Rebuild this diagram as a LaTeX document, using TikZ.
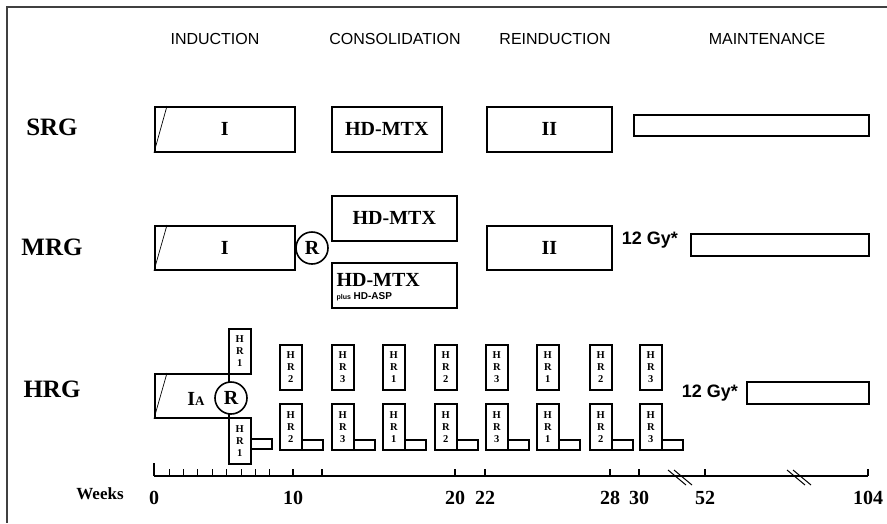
\documentclass[tikz,border=0pt]{standalone}
\usepackage{fontspec}
\setmainfont{Liberation Serif}
\newfontfamily\arialf{Liberation Sans}
\usetikzlibrary{calc}
\begin{document}
\begin{tikzpicture}[x=1pt,y=-1pt,
  bx/.style={draw, line width=1.6pt, inner sep=0pt, anchor=north west},
  circ/.style={draw, circle, line width=1.6pt, fill=white, inner sep=0pt, minimum size=32pt, font=\fontsize{20}{20}\selectfont\bfseries},
  big/.style={font=\fontsize{20}{20}\selectfont\bfseries},
  grp/.style={font=\fontsize{25}{25}\selectfont\bfseries},
  hdr/.style={font=\arialf\fontsize{16}{16}\selectfont},
  gy/.style={font=\arialf\fontsize{18}{18}\selectfont\bfseries},
  hrt/.style={font=\fontsize{10.5}{12}\selectfont\bfseries, align=center},
  axl/.style={font=\fontsize{20}{20}\selectfont\bfseries},
  slash/.style={line width=0.7pt},
  ax/.style={line width=1.5pt}]
\useasboundingbox (0,0) rectangle (887,523);
% frame
\coordinate (f0) at (7,7);
\coordinate (f1) at (887,7);
\coordinate (f2) at (7,523);
\draw[line width=1.2pt, black!75] (f1) -- (f0) -- (f2);
% headers
\node[hdr] (hInd) at (215,39) {INDUCTION};
\node[hdr] (hCon) at (395,39) {CONSOLIDATION};
\node[hdr] (hRei) at (555,39) {REINDUCTION};
\node[hdr] (hMai) at (767,39) {MAINTENANCE};
% group labels
\node[grp] (lSRG) at (52,127) {SRG};
\node[grp] (lMRG) at (52,247) {MRG};
\node[grp] (lHRG) at (52,389) {HRG};
% SRG row
\node[bx, big, minimum width=140pt, minimum height=45pt] (srgI) at (154,106) {I};
\draw[slash] ($(srgI.north west)+(13,0)$) -- (srgI.south west);
\node[bx, big, minimum width=110pt, minimum height=45pt] (srgC) at (331,106) {HD-MTX};
\node[bx, big, minimum width=125pt, minimum height=45pt] (srgR) at (486,106) {II};
\node[bx, minimum width=235pt, minimum height=21pt] (srgM) at (633,114) {};
% MRG row
\node[bx, big, minimum width=140pt, minimum height=44pt] (mrgI) at (154,225) {I};
\draw[slash] ($(mrgI.north west)+(13,0)$) -- (mrgI.south west);
\node[circ] (mrgRand) at (312,248) {R};
\node[bx, big, minimum width=125pt, minimum height=45pt] (mrgC1) at (331,195) {HD-MTX};
\node[bx, minimum width=125pt, minimum height=45pt] (mrgC2) at (331,262) {};
\node[big, anchor=west] (mrgC2t) at (333,280) {HD-MTX};
\node[font=\arialf\fontsize{10}{10}\selectfont\bfseries, anchor=west] (mrgC2s) at (333,297) {{\fontsize{7}{7}\selectfont plus} HD-ASP};
\node[bx, big, minimum width=125pt, minimum height=44pt] (mrgR) at (486,225) {II};
\node[gy] (gy1) at (650,240) {12 Gy*};
\node[bx, minimum width=178pt, minimum height=22pt] (mrgM) at (690,233) {};
% HRG row
\node[bx, minimum width=74pt, minimum height=44pt] (hrgI) at (154,373) {};
\draw[slash] ($(hrgI.north west)+(13,0)$) -- (hrgI.south west);
\node[big] (hrgIt) at (196,399) {I{\fontsize{13}{13}\selectfont A}};
% first HR1 blocks
\node[bx, hrt, minimum width=22pt, minimum height=45pt] (hrU1) at (228,328) {H\\R\\1};
\node[bx, hrt, minimum width=22pt, minimum height=46pt] (hrL1) at (228,417) {H\\R\\1};
\node[bx, minimum width=21pt, minimum height=10pt] (bar1) at (250,438) {};
\node[circ] (hrgRand) at (231,398) {R};
% remaining HR blocks
\foreach \n/\x/\d in {2/279/2, 3/331/3, 4/382/1, 5/434/2, 6/485/3, 7/536/1, 8/589/2, 9/639/3} {
  \node[bx, hrt, minimum width=22pt, minimum height=45pt] (hrU\n) at (\x,344) {H\\R\\\d};
  \node[bx, hrt, minimum width=22pt, minimum height=46pt] (hrL\n) at (\x,403) {H\\R\\\d};
  \node[bx, minimum width=21pt, minimum height=10pt] (bar\n) at (\x+22,439) {};
}
\node[gy] (gy2) at (710,393) {12 Gy*};
\node[bx, minimum width=122pt, minimum height=22pt] (hrgM) at (746,381) {};
% axis
\coordinate (a0) at (154,476);
\coordinate (a1) at (868,476);
\draw[ax] (a0) -- (a1);
\draw[ax] (154,476) -- (154,463);
\foreach \x in {169,183,197,212,226,241,255,269}
  \draw[line width=1pt] (\x,476) -- (\x,469);
\foreach \x in {293,322,455,485,610,639,705,868}
  \draw[line width=1.2pt] (\x,476) -- (\x,469);
% breaks
\draw[line width=1pt] (668,470) -- (686,485);
\draw[line width=1pt] (674,470) -- (692,485);
\draw[line width=1pt] (787,470) -- (805,485);
\draw[line width=1pt] (793,470) -- (811,485);
% axis labels
\node[font=\fontsize{17}{17}\selectfont\bfseries] (weeks) at (100,494) {Weeks};
\foreach \x/\t in {154/0, 293/10, 455/20, 485/22, 610/28, 639/30, 705/52, 868/104}
  \node[axl] (t\t) at (\x,498) {\t};
\end{tikzpicture}
\end{document}
